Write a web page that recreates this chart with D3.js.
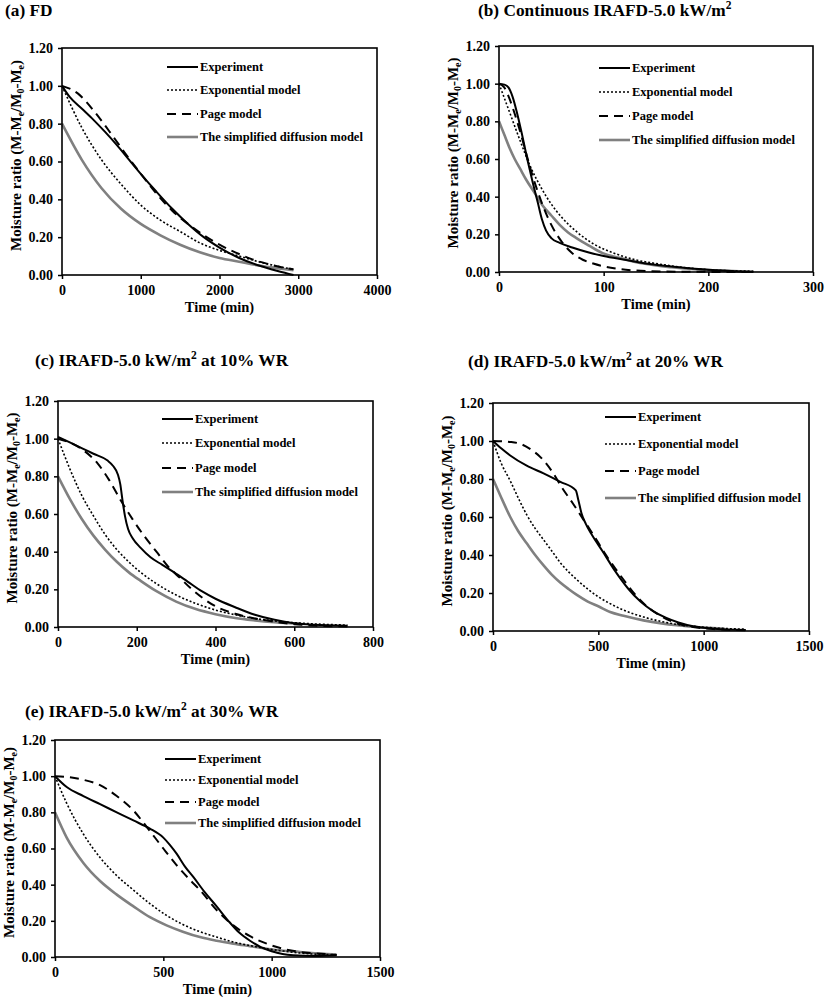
<!DOCTYPE html>
<html>
<head>
<meta charset="utf-8">
<script src="https://cdn.jsdelivr.net/npm/d3@7/dist/d3.min.js"></script>
<style>
  html, body { margin: 0; padding: 0; background: #fff; }
  svg text { font-family: "Liberation Serif", "Times New Roman", serif; font-weight: bold; fill: #000; }
</style>
</head>
<body>
<svg id="chart" width="827" height="999"></svg>
<script>
// ---------- Data (time in min, moisture ratio) ----------
const seriesNames = ["Experiment", "Exponential model", "Page model", "The simplified diffusion model"];
const yTickValues = [0, 0.2, 0.4, 0.6, 0.8, 1.0, 1.2];

// (a) FD
const aXTicks = [0, 1000, 2000, 3000, 4000];
const aExperiment = [[0,1.0],[100,0.94],[250,0.88],[400,0.82],[550,0.755],[700,0.685],[850,0.61],[1000,0.535],[1200,0.44],[1400,0.35],[1600,0.27],[1800,0.20],[2000,0.145],[2250,0.09],[2500,0.05],[2750,0.02],[2940,0.0]];
const aExponential = [[0,1.0],[250,0.78],[500,0.61],[750,0.48],[1000,0.37],[1250,0.29],[1500,0.23],[1750,0.17],[2000,0.13],[2250,0.10],[2500,0.07],[2750,0.045],[2940,0.03]];
const aPage = [[0,1.0],[200,0.96],[400,0.87],[600,0.76],[800,0.645],[1000,0.535],[1200,0.43],[1400,0.34],[1600,0.27],[1800,0.21],[2000,0.16],[2200,0.12],[2400,0.085],[2600,0.06],[2800,0.04],[2940,0.03]];
const aDiffusion = [[0,0.80],[250,0.61],[500,0.46],[750,0.35],[1000,0.27],[1250,0.21],[1500,0.16],[1750,0.12],[2000,0.09],[2250,0.07],[2500,0.05],[2750,0.035],[2940,0.025]];

// (b) Continuous IRAFD-5.0 kW/m2
const bXTicks = [0, 100, 200, 300];
const bExperiment = [[0,1.0],[5,0.995],[9,0.98],[13,0.93],[17,0.85],[22,0.73],[27,0.60],[32,0.48],[37,0.37],[41,0.28],[45,0.22],[50,0.18],[58,0.155],[70,0.13],[85,0.105],[100,0.085],[120,0.065],[140,0.045],[170,0.027],[200,0.012],[243,0.0]];
const bExponential = [[0,1.0],[10,0.85],[20,0.70],[30,0.56],[40,0.45],[50,0.36],[60,0.29],[75,0.21],[90,0.15],[110,0.10],[130,0.065],[150,0.045],[175,0.025],[200,0.012],[243,0.004]];
const bPage = [[0,1.0],[5,0.98],[10,0.92],[15,0.84],[20,0.75],[25,0.65],[30,0.55],[35,0.46],[40,0.38],[45,0.31],[50,0.25],[60,0.16],[70,0.10],[80,0.065],[90,0.045],[100,0.03],[112,0.018],[130,0.008],[160,0.002],[243,0.0]];
const bDiffusion = [[0,0.80],[5,0.73],[10,0.66],[15,0.60],[20,0.55],[26,0.49],[34,0.42],[42,0.35],[50,0.30],[58,0.25],[66,0.21],[74,0.18],[86,0.14],[99,0.10],[115,0.075],[138,0.045],[165,0.025],[200,0.01],[243,0.002]];

// (c) IRAFD-5.0 kW/m2 at 10% WR
const cXTicks = [0, 200, 400, 600, 800];
const cExperiment = [[0,1.01],[30,0.98],[60,0.95],[90,0.92],[125,0.885],[140,0.855],[152,0.81],[158,0.76],[164,0.67],[170,0.59],[178,0.52],[190,0.47],[210,0.42],[235,0.37],[265,0.33],[295,0.29],[330,0.24],[365,0.19],[400,0.15],[450,0.105],[500,0.065],[550,0.038],[600,0.02],[650,0.012],[735,0.007]];
const cExponential = [[0,1.0],[30,0.84],[60,0.70],[90,0.59],[120,0.49],[150,0.41],[180,0.345],[210,0.29],[250,0.23],[300,0.17],[350,0.125],[400,0.09],[450,0.065],[500,0.045],[550,0.032],[620,0.02],[735,0.01]];
const cPage = [[0,1.0],[40,0.97],[70,0.93],[100,0.87],[130,0.78],[160,0.67],[190,0.57],[220,0.48],[250,0.40],[280,0.32],[310,0.26],[340,0.20],[370,0.15],[400,0.11],[450,0.07],[500,0.045],[550,0.028],[600,0.015],[650,0.008],[735,0.003]];
const cDiffusion = [[0,0.80],[30,0.68],[60,0.575],[90,0.485],[120,0.41],[150,0.345],[180,0.29],[210,0.245],[250,0.19],[300,0.135],[350,0.095],[400,0.068],[450,0.048],[500,0.035],[550,0.025],[620,0.015]];

// (d) IRAFD-5.0 kW/m2 at 20% WR
const dXTicks = [0, 500, 1000, 1500];
const dExperiment = [[0,1.0],[40,0.96],[80,0.925],[160,0.87],[240,0.83],[320,0.785],[393,0.74],[405,0.69],[420,0.62],[440,0.565],[470,0.505],[520,0.42],[580,0.315],[640,0.225],[700,0.155],[760,0.105],[820,0.07],[880,0.045],[950,0.025],[1050,0.012],[1200,0.005]];
const dExponential = [[0,1.0],[40,0.88],[82,0.79],[120,0.70],[161,0.61],[200,0.54],[240,0.48],[280,0.42],[319,0.36],[360,0.31],[398,0.27],[450,0.22],[500,0.18],[556,0.144],[620,0.11],[714,0.074],[800,0.05],[872,0.035],[1000,0.02],[1100,0.013],[1200,0.01]];
const dPage = [[0,1.0],[80,0.995],[130,0.985],[180,0.955],[230,0.91],[280,0.84],[330,0.75],[380,0.67],[430,0.585],[480,0.50],[530,0.41],[580,0.33],[630,0.255],[680,0.185],[730,0.13],[780,0.09],[840,0.055],[900,0.032],[1000,0.014],[1100,0.007],[1200,0.004]];
const dDiffusion = [[0,0.80],[40,0.70],[82,0.60],[120,0.525],[161,0.46],[200,0.40],[240,0.345],[280,0.295],[319,0.255],[360,0.22],[398,0.19],[450,0.155],[500,0.13],[556,0.10],[620,0.08],[714,0.056],[800,0.04],[872,0.03],[1000,0.018],[1100,0.012]];

// (e) IRAFD-5.0 kW/m2 at 30% WR
const eXTicks = [0, 500, 1000, 1500];
const eExperiment = [[0,1.0],[54,0.94],[131,0.89],[208,0.845],[285,0.80],[362,0.755],[438,0.71],[500,0.66],[530,0.62],[562,0.57],[600,0.50],[640,0.44],[690,0.36],[746,0.28],[800,0.20],[850,0.135],[900,0.09],[950,0.055],[1000,0.032],[1050,0.017],[1100,0.01],[1200,0.006],[1300,0.01]];
const eExponential = [[0,1.0],[54,0.85],[131,0.68],[208,0.55],[285,0.45],[362,0.37],[438,0.295],[515,0.23],[590,0.18],[669,0.14],[746,0.11],[823,0.083],[900,0.063],[977,0.046],[1054,0.033],[1131,0.022],[1200,0.016],[1300,0.012]];
const ePage = [[0,1.0],[60,0.995],[131,0.98],[208,0.95],[285,0.89],[362,0.81],[423,0.72],[500,0.60],[560,0.51],[620,0.43],[669,0.37],[746,0.26],[823,0.175],[900,0.115],[977,0.074],[1054,0.045],[1131,0.028],[1200,0.02],[1300,0.013]];
const eDiffusion = [[0,0.80],[54,0.66],[131,0.52],[208,0.42],[285,0.345],[362,0.28],[438,0.22],[515,0.175],[590,0.14],[669,0.11],[746,0.09],[823,0.074],[900,0.06],[977,0.046],[1054,0.035],[1131,0.028],[1200,0.02],[1280,0.015]];

// ---------- Layout ----------
const panels = [
  {title:["(a) FD"], tx:5, ty:16, x0:62, x1:377, y0:48, y1:275, xMax:4000, xTicks:aXTicks,
   series:[aExperiment,aExponential,aPage,aDiffusion], lx:167, ly:[67,90,114,137]},
  {title:["(b) Continuous IRAFD-5.0 kW/m","2",""], tx:478, ty:16, x0:499, x1:813, y0:46, y1:272, xMax:300, xTicks:bXTicks,
   series:[bExperiment,bExponential,bPage,bDiffusion], lx:599, ly:[68,92,116,140]},
  {title:["(c) IRAFD-5.0 kW/m","2"," at 10% WR"], tx:35, ty:366, x0:58, x1:373, y0:401, y1:627, xMax:800, xTicks:cXTicks,
   series:[cExperiment,cExponential,cPage,cDiffusion], lx:162, ly:[419,443,468,492]},
  {title:["(d) IRAFD-5.0 kW/m","2"," at 20% WR"], tx:468, ty:367, x0:493, x1:809, y0:403, y1:631, xMax:1500, xTicks:dXTicks,
   series:[dExperiment,dExponential,dPage,dDiffusion], lx:605, ly:[417,444,471,498]},
  {title:["(e) IRAFD-5.0 kW/m","2"," at 30% WR"], tx:25, ty:717, x0:55, x1:380, y0:740, y1:957, xMax:1500, xTicks:eXTicks,
   series:[eExperiment,eExponential,ePage,eDiffusion], lx:165, ly:[759,780,802,823]}
];

const styles = [
  {stroke:"#000", width:2, dash:null},
  {stroke:"#000", width:1.6, dash:"2,2"},
  {stroke:"#000", width:2, dash:"9,6"},
  {stroke:"#808080", width:2.6, dash:null}
];

const svg = d3.select("#chart");

panels.forEach(p => {
  const x = d3.scaleLinear().domain([0, p.xMax]).range([p.x0, p.x1]);
  const y = d3.scaleLinear().domain([0, 1.2]).range([p.y1, p.y0]);
  const g = svg.append("g");

  // title
  const t = g.append("text").attr("x", p.tx).attr("y", p.ty).style("font-size", "17.3px");
  t.append("tspan").text(p.title[0]);
  if (p.title.length > 1) {
    t.append("tspan").attr("dy", -7).style("font-size", "11.5px").text(p.title[1]);
    t.append("tspan").attr("dy", 7).text(p.title[2]);
  }

  // axes
  const yAxis = d3.axisLeft(y).tickValues(yTickValues).tickFormat(d3.format(".2f")).tickSize(4).tickPadding(5);
  const xAxis = d3.axisBottom(x).tickValues(p.xTicks).tickFormat(d3.format("d")).tickSize(4).tickPadding(6);
  const ya = g.append("g").attr("transform", `translate(${p.x0},0)`).call(yAxis);
  const xa = g.append("g").attr("transform", `translate(0,${p.y1})`).call(xAxis);
  [ya, xa].forEach(a => {
    a.select(".domain").remove();
    a.selectAll(".tick line").attr("stroke", "#000").attr("stroke-width", 1.5);
    a.selectAll(".tick text").style("font-family", "Liberation Serif").style("font-weight", "bold").style("font-size", "14px").attr("fill", "#000");
  });

  // curves
  const line = d3.line().x(d => x(d[0])).y(d => y(d[1])).curve(d3.curveMonotoneX);
  const order = [3, 1, 2, 0];
  order.forEach(i => {
    const s = styles[i];
    g.append("path").datum(p.series[i]).attr("d", line)
      .attr("fill", "none").attr("stroke", s.stroke).attr("stroke-width", s.width)
      .attr("stroke-dasharray", s.dash);
  });

  // frame
  g.append("rect").attr("x", p.x0).attr("y", p.y0).attr("width", p.x1 - p.x0).attr("height", p.y1 - p.y0)
    .attr("fill", "none").attr("stroke", "#000").attr("stroke-width", 1.6);

  // axis titles
  g.append("text").attr("x", (p.x0 + p.x1) / 2).attr("y", p.y1 + 37).attr("text-anchor", "middle")
    .style("font-size", "14.5px").text("Time (min)");
  const yl = g.append("text").attr("transform", `translate(${p.x0 - 41},${(p.y0 + p.y1) / 2 - 6}) rotate(-90)`)
    .attr("text-anchor", "middle").style("font-size", "15px");
  yl.append("tspan").text("Moisture ratio (M-M");
  yl.append("tspan").attr("dy", 3).style("font-size", "10px").text("e");
  yl.append("tspan").attr("dy", -3).text("/M");
  yl.append("tspan").attr("dy", 3).style("font-size", "10px").text("0");
  yl.append("tspan").attr("dy", -3).text("-M");
  yl.append("tspan").attr("dy", 3).style("font-size", "10px").text("e");
  yl.append("tspan").attr("dy", -3).text(")");

  // legend
  seriesNames.forEach((name, i) => {
    const s = styles[i];
    g.append("line").attr("x1", p.lx).attr("x2", p.lx + 31).attr("y1", p.ly[i]).attr("y2", p.ly[i])
      .attr("stroke", s.stroke).attr("stroke-width", s.width).attr("stroke-dasharray", s.dash);
    g.append("text").attr("x", p.lx + 33).attr("y", p.ly[i] + 4).style("font-size", "12.5px").text(name);
  });
});
</script>
</body>
</html>
